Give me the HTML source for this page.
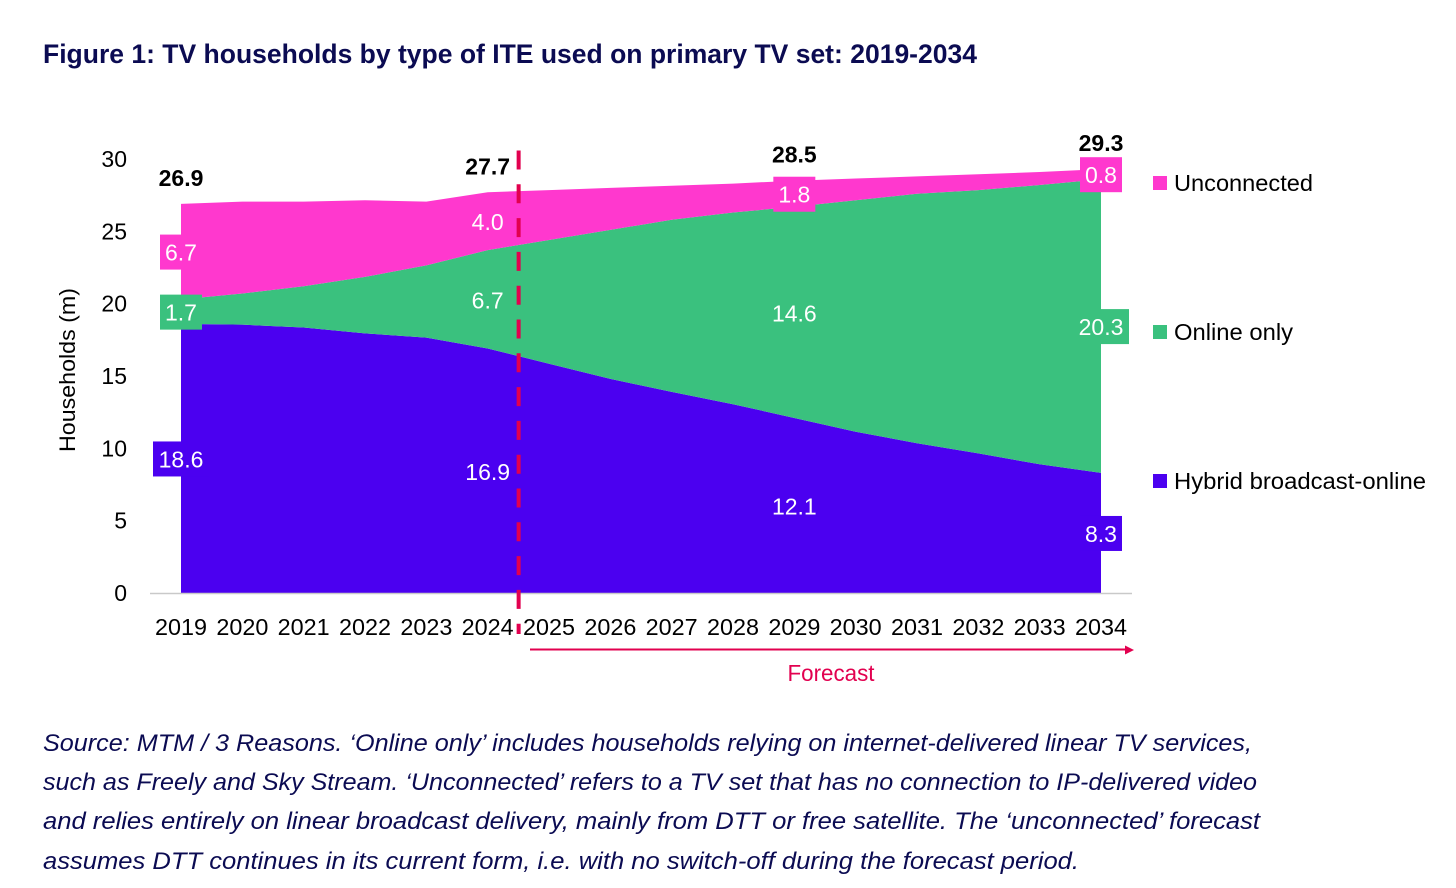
<!DOCTYPE html>
<html lang="en">
<head>
<meta charset="utf-8">
<title>Figure 1: TV households by type of ITE</title>
<style>
html,body{margin:0;padding:0;background:#fff;width:1456px;height:888px;overflow:hidden}
svg{display:block}
text{font-family:"Liberation Sans",sans-serif}
</style>
</head>
<body>
<svg id="figure" width="1456" height="888" viewBox="0 0 1456 888" xmlns="http://www.w3.org/2000/svg">
  <text x="43" y="63" font-size="27" font-weight="700" fill="#0b0b52" textLength="934" lengthAdjust="spacingAndGlyphs">Figure 1: TV households by type of ITE used on primary TV set: 2019-2034</text>
  <g id="plot"></g>
  <text transform="translate(75,370) rotate(-90)" text-anchor="middle" font-size="22" fill="#000" textLength="164" lengthAdjust="spacingAndGlyphs">Households (m)</text>
  <g font-size="24" font-style="italic" fill="#0b0b52">
    <text x="43" y="751" textLength="1209" lengthAdjust="spacingAndGlyphs">Source: MTM / 3 Reasons. ‘Online only’ includes households relying on internet-delivered linear TV services,</text>
    <text x="43" y="790" textLength="1214" lengthAdjust="spacingAndGlyphs">such as Freely and Sky Stream. ‘Unconnected’ refers to a TV set that has no connection to IP-delivered video</text>
    <text x="43" y="829" textLength="1217" lengthAdjust="spacingAndGlyphs">and relies entirely on linear broadcast delivery, mainly from DTT or free satellite. The ‘unconnected’ forecast</text>
    <text x="43" y="869" textLength="1036" lengthAdjust="spacingAndGlyphs">assumes DTT continues in its current form, i.e. with no switch-off during the forecast period.</text>
  </g>
</svg>
<script>
const categories = [2019,2020,2021,2022,2023,2024,2025,2026,2027,2028,2029,2030,2031,2032,2033,2034];
const hybridValues = [18.6,18.55,18.35,17.95,17.65,16.9,15.85,14.8,13.9,13.05,12.1,11.15,10.35,9.65,8.9,8.3];
const onlineValues = [1.7,2.15,2.85,3.9,5.0,6.8,8.55,10.3,11.9,13.25,14.6,16.0,17.25,18.2,19.3,20.3];
const unconnectedValues = [6.6,6.35,5.85,5.3,4.4,4.0,3.45,2.9,2.35,2.0,1.8,1.5,1.2,1.1,0.9,0.7];
const yTicks = [0,5,10,15,20,25,30];
const labelledYears = [2019,2024,2029,2034];
const hybridLabels = ["18.6","16.9","12.1","8.3"];
const onlineLabels = ["1.7","6.7","14.6","20.3"];
const unconnectedLabels = ["6.7","4.0","1.8","0.8"];
const totalLabels = ["26.9","27.7","28.5","29.3"];
const legendNames = ["Unconnected","Online only","Hybrid broadcast-online"];
const forecastStart = 2024.5;

const NS = "http://www.w3.org/2000/svg";
const plot = document.getElementById("plot");
const PURPLE = "#4b00f0", GREEN = "#3ac17e", PINK = "#ff38ce", RED = "#e2004f";
const X0 = 181, XSTEP = (1101 - 181) / 15;
const Y0 = 593, YUNIT = (593 - 159) / 30;
function xScale(year){ return X0 + (year - categories[0]) * XSTEP; }
function yScale(v){ return Y0 - v * YUNIT; }

function make(tag, attrs, text){
  const el = document.createElementNS(NS, tag);
  for (const k in attrs) el.setAttribute(k, attrs[k]);
  if (text !== undefined) el.textContent = text;
  plot.appendChild(el);
  return el;
}
function slug(s){ return s.toLowerCase().replace(/[^a-z0-9]+/g, "-"); }

/* stacked series */
const series = [
  {name:"hybrid-broadcast-online", values:hybridValues, color:PURPLE, labels:hybridLabels},
  {name:"online-only", values:onlineValues, color:GREEN, labels:onlineLabels},
  {name:"unconnected", values:unconnectedValues, color:PINK, labels:unconnectedLabels}
];
let base = categories.map(function(){ return 0; });
series.forEach(function(s){
  const top = base.map(function(b, i){ return b + s.values[i]; });
  s.base = base;
  s.top = top;
  let d = "";
  top.forEach(function(v, i){ d += (i ? "L" : "M") + xScale(categories[i]).toFixed(2) + " " + yScale(v).toFixed(2); });
  for (let i = base.length - 1; i >= 0; i--) d += "L" + xScale(categories[i]).toFixed(2) + " " + yScale(base[i]).toFixed(2);
  d += "Z";
  const area = make("path", {d:d, fill:s.color});
  
  
  base = top;
});

/* x axis line */
const axisLine = make("line", {x1:150, x2:1132, y1:Y0 + 0.5, y2:Y0 + 0.5, stroke:"#c9c9c9", "stroke-width":1.5});



/* y ticks */
yTicks.forEach(function(t){
  const el = make("text", {x:127, y:yScale(t) + 8, "text-anchor":"end", "font-size":23, fill:"#000"}, String(t));
  
  
});

/* x ticks */
categories.forEach(function(c){
  const el = make("text", {x:xScale(c), y:Y0 + 42, "text-anchor":"middle", "font-size":23, fill:"#000", textLength:52, lengthAdjust:"spacingAndGlyphs"}, String(c));
  
  
});

/* value labels */
series.forEach(function(s){
  labelledYears.forEach(function(year, j){
    const i = categories.indexOf(year);
    const cx = xScale(year);
    const cy = yScale((s.base[i] + s.top[i]) / 2);
    const txt = s.labels[j];
    const boxed = j === 0 || j === 3 || (j === 2 && s.name === "unconnected");
    if (boxed) {
      const w = txt.length > 3 ? 56 : 42;
      const box = make("rect", {x:cx - w / 2, y:cy - 17, width:w, height:35, fill:s.color});
      
      
    }
    const el = make("text", {x:cx, y:cy + 9, "text-anchor":"middle", "font-size":23, fill:"#fff"}, txt);
    
    
  });
});

/* total labels */
labelledYears.forEach(function(year, j){
  const i = categories.indexOf(year);
  const total = series[2].top[i];
  const el = make("text", {x:xScale(year), y:yScale(total) - 18, "text-anchor":"middle", "font-size":23, "font-weight":700, fill:"#000"}, totalLabels[j]);
  
  
});

/* forecast divider */
const fx = xScale(forecastStart) + 0.3;
const divider = make("line", {x1:fx, x2:fx, y1:150.5, y2:634, stroke:RED, "stroke-width":4, "stroke-dasharray":"19 14.8"});



/* forecast arrow */
const arrow = make("line", {x1:530, x2:1127, y1:649.5, y2:649.5, stroke:RED, "stroke-width":2});


const head = make("polygon", {points:"1134,650 1125,645.5 1125,654.5", fill:RED});


const forecast = make("text", {x:831, y:681, "text-anchor":"middle", "font-size":23, fill:RED, textLength:87, lengthAdjust:"spacingAndGlyphs"}, "Forecast");



/* legend */
const legendColors = [PINK, GREEN, PURPLE];
const legendWidths = [139, 119, 252];
legendNames.forEach(function(name, i){
  const cy = 183 + i * 149;
  const sw = make("rect", {x:1153, y:cy - 7, width:14, height:14, fill:legendColors[i]});
  
  
  const t = make("text", {x:1174, y:cy + 8, "font-size":23, fill:"#000", textLength:legendWidths[i], lengthAdjust:"spacingAndGlyphs"}, name);
  
  
});
</script>
</body>
</html>
